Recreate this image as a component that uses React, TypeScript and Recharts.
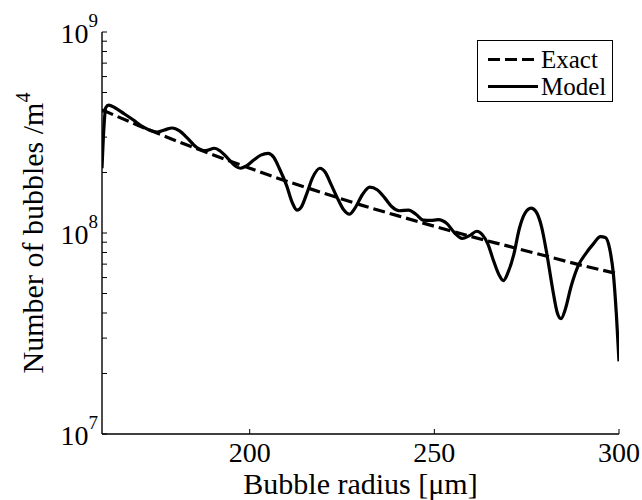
import React from 'react';
import { LineChart, Line, XAxis, YAxis, Legend } from 'recharts';

const exactRadius = [160, 170, 180, 190, 200, 210, 220, 230, 240, 250, 260, 270, 280, 290, 300];
const exactValues = [4.1e8, 3.42e8, 2.88e8, 2.45e8, 2.1e8, 1.81e8, 1.58e8, 1.38e8, 1.22e8, 1.08e8, 9.6e7, 8.6e7, 7.7e7, 6.9e7, 6.25e7];

const modelRadius = [
  160.0, 160.5, 161.0, 161.8, 163.5, 166.0, 168.5, 171.0, 173.5, 175.0,
  177.0, 179.0, 181.0, 183.0, 185.5, 188.0, 190.5, 192.0, 194.0, 196.0,
  197.5, 199.0, 201.0, 203.0, 205.0, 206.5, 208.0, 210.0, 211.5, 212.8,
  214.0, 215.5, 217.0, 219.0, 220.5, 222.0, 224.0, 225.5, 227.0, 228.5,
  230.5, 232.5, 234.5, 236.5, 238.5, 240.5, 243.0, 245.0, 247.0, 249.0,
  251.0, 253.5, 255.5, 257.5, 259.5, 261.5, 263.0, 264.5, 266.0, 267.5,
  268.7, 270.0, 271.5, 273.0, 274.5, 276.2, 277.5, 279.0, 280.5, 282.0,
  283.3, 284.3, 285.5, 287.0, 289.0, 291.0, 293.0, 295.0, 296.3, 297.5,
  298.5, 299.3, 300.0,
];
const modelValues = [
  2.1e8, 3.3e8, 4.2e8, 4.33e8, 4.2e8, 3.92e8, 3.65e8, 3.38e8, 3.22e8, 3.18e8,
  3.26e8, 3.33e8, 3.22e8, 2.98e8, 2.68e8, 2.57e8, 2.64e8, 2.56e8, 2.36e8, 2.16e8,
  2.1e8, 2.15e8, 2.3e8, 2.44e8, 2.49e8, 2.38e8, 2.1e8, 1.72e8, 1.42e8, 1.3e8,
  1.35e8, 1.58e8, 1.88e8, 2.1e8, 2.0e8, 1.75e8, 1.46e8, 1.3e8, 1.24e8, 1.33e8,
  1.55e8, 1.69e8, 1.64e8, 1.5e8, 1.35e8, 1.29e8, 1.3e8, 1.24e8, 1.16e8, 1.155e8,
  1.165e8, 1.11e8, 1.0e8, 9.4e7, 9.7e7, 1.02e8, 9.8e7, 8.8e7, 7.3e7, 6.2e7,
  5.8e7, 6.4e7, 7.8e7, 1.05e8, 1.25e8, 1.33e8, 1.28e8, 1.08e8, 7.8e7, 5.3e7,
  4.0e7, 3.75e7, 4.2e7, 5.4e7, 6.9e7, 7.9e7, 8.8e7, 9.6e7, 9.5e7, 8.3e7,
  6.2e7, 3.9e7, 2.3e7,
];

const xDomain = [160, 300];
const xTicks = [200, 250, 300];
const yDomain = [1e7, 1e9];
const yMajorTicks = [1e7, 1e8, 1e9];
const yExponents = ['7', '8', '9'];
const yMinorTicks = [
  2e7, 3e7, 4e7, 5e7, 6e7, 7e7, 8e7, 9e7,
  2e8, 3e8, 4e8, 5e8, 6e8, 7e8, 8e8, 9e8,
];
const yAllTicks = [...yMajorTicks, ...yMinorTicks].sort((a, b) => a - b);

const seriesNames = ['Exact', 'Model'];
const xTitle = 'Bubble radius [μm]';
const yTitle = 'Number of bubbles /m';
const yTitleExp = '4';

const exactData = exactRadius.map((r, i) => ({ r, v: exactValues[i] }));
const modelData = modelRadius.map((r, i) => ({ r, v: modelValues[i] }));

const FONT = '"Liberation Serif", "Times New Roman", Times, serif';
const FS_TICK = 28;
const FS_SUP = 19;
const FS_TITLE = 30;
const FS_LEGEND = 25;
const TICK = 5;

const LeftTick = (props: any) => {
  const { x, y, payload } = props;
  const idx = yMajorTicks.indexOf(payload.value);
  return (
    <g>
      <line x1={x} y1={y} x2={x + TICK} y2={y} stroke="#000" strokeWidth={1} />
      {idx >= 0 && (
        <text x={x - 4} y={y + 11} textAnchor="end" fontFamily={FONT} fontSize={FS_TICK} fill="#000">
          10<tspan dy={-16} fontSize={FS_SUP}>{yExponents[idx]}</tspan>
        </text>
      )}
    </g>
  );
};

const RightTick = (props: any) => {
  const { x, y } = props;
  return <line x1={x} y1={y} x2={x - TICK} y2={y} stroke="#000" strokeWidth={1} />;
};

const BottomTick = (props: any) => {
  const { x, y, payload } = props;
  return (
    <g>
      <line x1={x} y1={y} x2={x} y2={y - TICK} stroke="#000" strokeWidth={1} />
      <text x={x} y={y + 28} textAnchor="middle" fontFamily={FONT} fontSize={FS_TICK} fill="#000">
        {payload.value}
      </text>
    </g>
  );
};

const TopTick = (props: any) => {
  const { x, y } = props;
  return <line x1={x} y1={y} x2={x} y2={y + TICK} stroke="#000" strokeWidth={1} />;
};

const XTitle = (props: any) => {
  const vb = props.viewBox || {};
  const cx = vb.x + vb.width / 2;
  return (
    <text x={cx} y={vb.y + 60} textAnchor="middle" fontFamily={FONT} fontSize={FS_TITLE} fill="#000">
      {xTitle}
    </text>
  );
};

const YTitle = (props: any) => {
  const vb = props.viewBox || {};
  const cy = vb.y + vb.height / 2;
  const tx = vb.x + 1;
  return (
    <text
      x={tx}
      y={cy}
      transform={`rotate(-90 ${tx} ${cy})`}
      textAnchor="middle"
      fontFamily={FONT}
      fontSize={FS_TITLE}
      fill="#000"
    >
      {yTitle}
      <tspan dy={-13} fontSize={20}>{yTitleExp}</tspan>
    </text>
  );
};

const LegendBox = () => (
  <div
    style={{
      width: 136,
      height: 62,
      boxSizing: 'border-box',
      border: '1px solid #000',
      background: '#fff',
      fontFamily: FONT,
      fontSize: FS_LEGEND,
      color: '#000',
      paddingTop: 5,
    }}
  >
    {seriesNames.map((name, i) => (
      <div key={name} style={{ display: 'flex', alignItems: 'center', height: 27, lineHeight: '27px' }}>
        <svg width={63} height={27} style={{ display: 'block' }}>
          <line
            x1={10}
            y1={13.5}
            x2={60}
            y2={13.5}
            stroke="#000"
            strokeWidth={3.2}
            strokeDasharray={i === 0 ? '12 5' : undefined}
          />
        </svg>
        <span>{name}</span>
      </div>
    ))}
  </div>
);

export default function App() {
  return (
    <div style={{ position: 'absolute', left: 0, top: 0, width: 642, height: 500 }}>
      <LineChart
        width={642}
        height={500}
        margin={{ top: 32, right: 23, left: 42, bottom: 26 }}
        style={{ fontFamily: FONT }}
      >
        <XAxis
          xAxisId="bottom"
          dataKey="r"
          type="number"
          domain={xDomain}
          ticks={xTicks}
          allowDataOverflow
          height={40}
          tickSize={0}
          tickMargin={0}
          tickLine={false}
          axisLine={{ stroke: '#000', strokeWidth: 1.4 }}
          tick={<BottomTick />}
          interval={0}
          label={<XTitle />}
        />
        <XAxis
          xAxisId="top"
          orientation="top"
          dataKey="r"
          type="number"
          domain={xDomain}
          ticks={xTicks}
          allowDataOverflow
          height={0}
          tickSize={0}
          tickMargin={0}
          tickLine={false}
          axisLine={{ stroke: '#000', strokeWidth: 1.4 }}
          tick={<TopTick />}
          interval={0}
        />
        <YAxis
          yAxisId="left"
          type="number"
          scale="log"
          domain={yDomain}
          ticks={yAllTicks}
          allowDataOverflow
          width={60}
          tickSize={0}
          tickMargin={0}
          tickLine={false}
          axisLine={{ stroke: '#000', strokeWidth: 1.4 }}
          tick={<LeftTick />}
          interval={0}
          label={<YTitle />}
        />
        <YAxis
          yAxisId="right"
          orientation="right"
          type="number"
          scale="log"
          domain={yDomain}
          ticks={yAllTicks}
          allowDataOverflow
          width={0}
          tickSize={0}
          tickMargin={0}
          tickLine={false}
          axisLine={{ stroke: '#000', strokeWidth: 1.4 }}
          tick={<RightTick />}
          interval={0}
        />
        <Line
          xAxisId="bottom"
          yAxisId="left"
          data={exactData}
          dataKey="v"
          name={seriesNames[0]}
          type="monotone"
          stroke="#000"
          strokeWidth={3.2}
          strokeDasharray="12 5"
          dot={false}
          activeDot={false}
          isAnimationActive={false}
        />
        <Line
          xAxisId="bottom"
          yAxisId="left"
          data={modelData}
          dataKey="v"
          name={seriesNames[1]}
          type="monotone"
          stroke="#000"
          strokeWidth={3.2}
          dot={false}
          activeDot={false}
          isAnimationActive={false}
        />
        <Legend
          layout="vertical"
          align="center"
          verticalAlign="middle"
          content={<LegendBox />}
          wrapperStyle={{ position: 'absolute', left: 477, top: 40, width: 136, height: 62 }}
        />
      </LineChart>
    </div>
  );
}
